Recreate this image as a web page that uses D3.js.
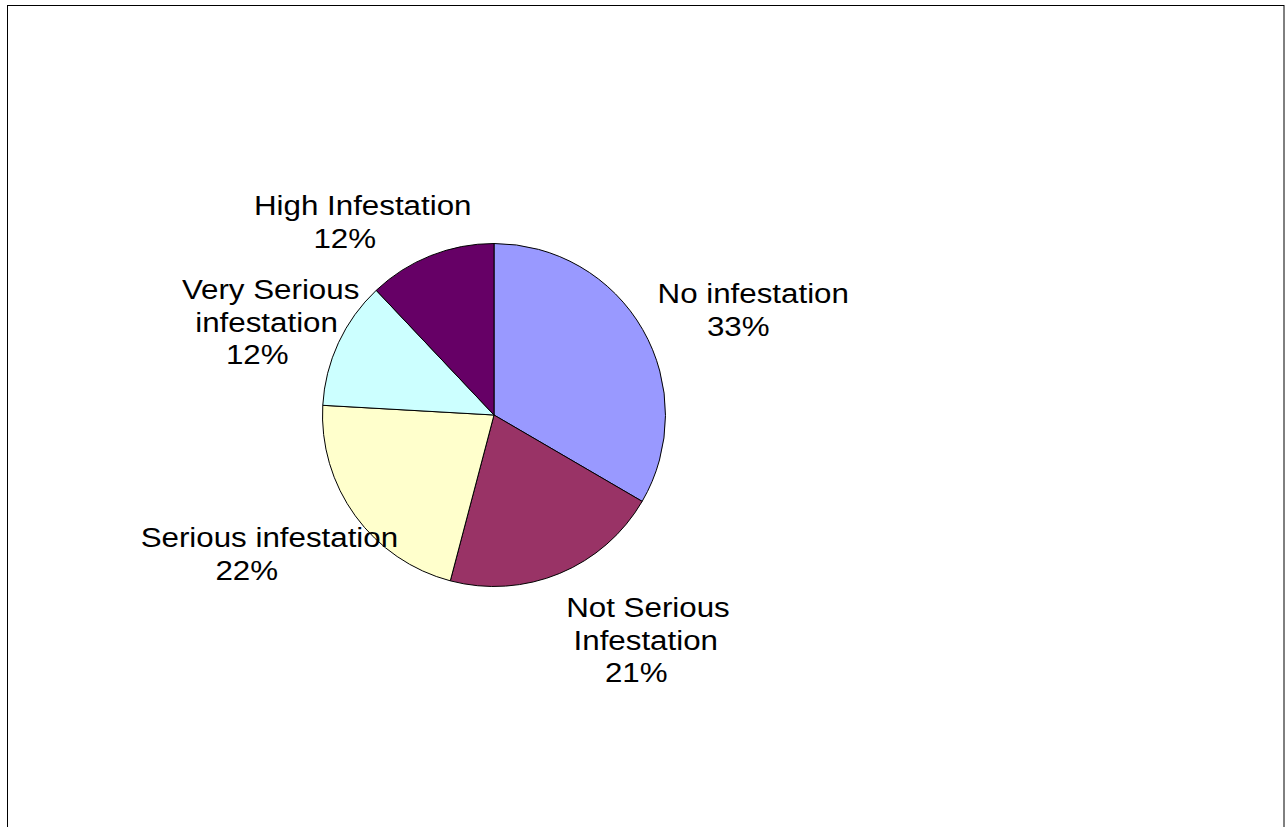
<!DOCTYPE html>
<html>
<head>
<meta charset="utf-8">
<script src="https://cdn.jsdelivr.net/npm/d3@7"></script>
<style>
  html, body { margin: 0; padding: 0; background: #fff; }
  svg { display: block; }
</style>
</head>
<body>
<svg id="chart" width="1285" height="827"></svg>
<script>
// ---- data ----
const categories = ["No infestation", "Not Serious\nInfestation", "Serious infestation", "Very Serious\ninfestation", "High Infestation"];
const values = [33.4, 20.7, 21.8, 12.05, 12.05];
const colors = ["#9999FF", "#993366", "#FFFFCC", "#CCFFFF", "#660066"];
// label anchor offsets from pie centre (centre x of text block, first baseline)
const labelOffsets = [[237, -112], [135, 202], [-254.5, 132], [-244, -116], [-156.5, -200]];

const W = 1285, H = 827;
const cx = 494, cy = 415, R = 171.5;
const fontSize = 27, stretch = 1.16, anchorFactor = 0.89, lineGap = 32.5;

const svg = d3.select("#chart");

// chart border
svg.append("rect")
  .attr("x", 7.5).attr("y", 5.5)
  .attr("width", 1276.5).attr("height", 900)
  .attr("fill", "none").attr("stroke", "#000").attr("stroke-width", 1);

const total = d3.sum(values);
const pie = d3.pie().sort(null).value(d => d)(values);
const arc = d3.arc().innerRadius(0).outerRadius(R);

const g = svg.append("g").attr("transform", `translate(${cx},${cy})`);
g.selectAll("path.slice")
  .data(pie)
  .join("path")
  .attr("class", "slice")
  .attr("d", arc)
  .attr("fill", (d, i) => colors[i])
  .attr("stroke", "#000")
  .attr("stroke-width", 1)
  .attr("stroke-linejoin", "round");

// labels
const labels = svg.append("g");
pie.forEach((d, i) => {
  const pct = Math.round(d.value / total * 100) + "%";
  const lines = categories[i].split("\n").concat([pct]);
  const [ox, oy] = labelOffsets[i];
  const lx = cx + ox, ly = cy + oy;
  lines.forEach((line, j) => {
    const t = labels.append("text")
      .attr("font-family", "'Liberation Sans', Arial, sans-serif")
      .attr("font-size", fontSize)
      .attr("fill", "#000")
      .attr("text-anchor", "start")
      .text(line);
    const w = t.node().getComputedTextLength();
    t.attr("transform", `translate(${lx - anchorFactor * w / 2},${ly + j * lineGap}) scale(${stretch},1)`);
  });
});
</script>
</body>
</html>
